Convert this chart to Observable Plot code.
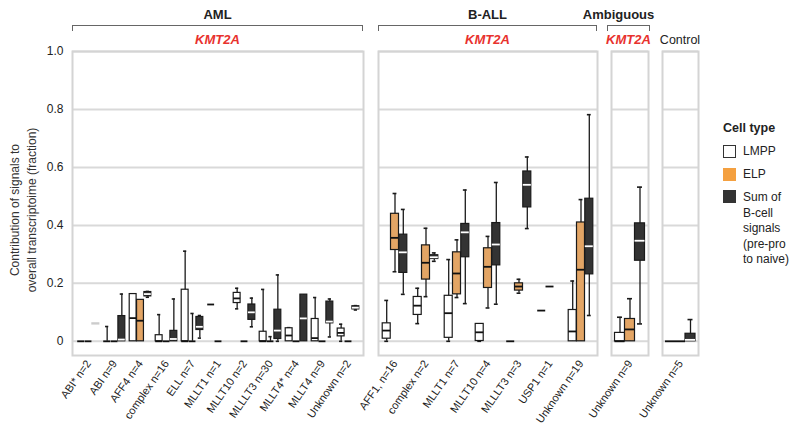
<!DOCTYPE html>
<html>
<head>
<meta charset="utf-8">
<script src="https://cdn.jsdelivr.net/npm/d3@7"></script>
<script src="https://cdn.jsdelivr.net/npm/@observablehq/plot@0.6"></script>
<style>
  body { margin: 0; background: white; }
  #c { position: relative; width: 800px; height: 435px; font-family: "Liberation Sans", Arial, sans-serif; color: #222; overflow: hidden; }
  #c svg { position: absolute; left: 0; top: 0; }
  .hd { position: absolute; font-size: 13px; font-weight: bold; white-space: nowrap; transform: translateX(-50%); line-height: 16px; }
  .kmt { position: absolute; font-size: 13px; font-weight: bold; font-style: italic; color: #e8322e; white-space: nowrap; transform: translateX(-50%); line-height: 16px; }
  .br { position: absolute; height: 6px; border: 1.5px solid #666; border-bottom: none; box-sizing: border-box; }
  .lg { position: absolute; font-size: 12px; line-height: 15.5px; color: #222; }
  .sw { position: absolute; width: 13px; height: 13px; box-sizing: border-box; }
</style>
</head>
<body>
<div id="c"></div>
<script>
// ---------- DATA: [whisker low, Q1, median, Q3, whisker high] ----------
const amlCats = ["ABI* n=2","ABI n=9","AFF4 n=4","complex n=16","ELL n=7","MLLT1 n=1","MLLT10 n=2","MLLLT3 n=30","MLLT4* n=4","MLLT4 n=9","Unknown n=2"];
const amlLMPP = [
  [0,0,0,0,0],[0,0,0,0,0.051],[0,0,0.08,0.163,0.163],[0,0,0,0.021,0.092],[0,0,0,0.178,0.311],
  [0.127,0.127,0.127,0.127,0.127],[0.112,0.132,0.148,0.167,0.183],[0,0,0,0.033,0.179],
  [0,0,0.02,0.045,0.047],[0,0,0.011,0.077,0.151],[0,0.017,0.029,0.044,0.059]];
const amlELP = [
  [0,0,0,0,0],[0,0,0,0,0],[0,0,0.071,0.143,0.143],[0,0,0,0,0],[0,0,0,0,0.096],
  [0,0,0,0,0],[0,0,0,0,0],[0,0,0,0,0.016],[0,0,0,0,0],[0,0,0,0,0],[0,0,0,0,0]];
const amlSum = [
  [0.058,0.058,0.06,0.062,0.062],[0,0,0.006,0.087,0.163],[0.152,0.155,0.163,0.17,0.172],
  [0,0,0.008,0.036,0.146],[0.011,0.039,0.05,0.084,0.089],null,[0.05,0.074,0.1,0.127,0.149],
  [0,0.008,0.037,0.109,0.229],[0,0,0.079,0.161,0.161],[0.015,0.062,0.068,0.137,0.146],
  [0.108,0.11,0.116,0.121,0.123]];
const amlFaint = ["ABI* n=2"];

const ballCats = ["AFF1, n=16","complex n=2","MLLT1 n=7","MLLT10 n=4","MLLLT3 n=3","USP1 n=1","Unknown n=19"];
const ballLMPP = [
  [0,0.009,0.037,0.062,0.141],[0.061,0.091,0.123,0.153,0.183],[0,0.012,0.097,0.157,0.282],
  [0,0.001,0.031,0.06,0.06],[0,0,0,0,0],[0.106,0.106,0.106,0.106,0.106],[0,0,0.034,0.108,0.208]];
const ballELP = [
  [0.24,0.315,0.357,0.44,0.51],[0.154,0.213,0.271,0.331,0.39],[0.151,0.162,0.234,0.307,0.35],
  [0.115,0.184,0.257,0.321,0.362],[0.166,0.175,0.189,0.2,0.214],[0.189,0.189,0.189,0.189,0.189],
  [0,0,0.247,0.41,0.489]];
const ballSum = [
  [0.162,0.236,0.307,0.368,0.455],[0.276,0.284,0.29,0.297,0.305],[0.13,0.29,0.376,0.405,0.522],
  [0.128,0.262,0.334,0.408,0.548],[0.389,0.462,0.54,0.586,0.636],null,[0.089,0.231,0.328,0.492,0.782]];

const ambCats = ["Unknown n=9"];
const ambLMPP = [[0,0,0,0.029,0.083]];
const ambELP  = [[0,0,0.041,0.077,0.147]];
const ambSum  = [[0.06,0.278,0.347,0.407,0.532]];

const ctlCats = ["Unknown n=5"];
const ctlLMPP = [[0,0,0,0,0]];
const ctlELP  = [[0,0,0,0,0]];
const ctlSum  = [[0,0,0.005,0.026,0.075]];

const yTicks = [0, 0.2, 0.4, 0.6, 0.8, 1.0];
const cellTypes = ["LMPP", "ELP", "Sum of B-cell signals (pre-pro to naive)"];
// ---------------------------------------------------------------------

const typeStyle = [
  {fill: "white", med: "#111"},
  {fill: "#e3a565", med: "#111"},
  {fill: "#333333", med: "white"}
];

function rows(cats, series, faint = []) {
  const out = [];
  series.forEach((v, i) => {
    if (!v) return;
    out.push({cat: cats[i], lo: v[0], q1: v[1], med: v[2], q3: v[3], hi: v[4], faint: faint.includes(cats[i])});
  });
  return out;
}

function panel({cats, series, L, R, p, yAxis, faint}) {
  const n = cats.length;
  const band = (R - L) / n;
  const w = band / (3 + 2 * p);
  const inset = (band - w) / 2;
  const capInset = (band - w * 0.5) / 2;
  const marks = [
    Plot.gridY(yTicks, {stroke: "#d9d9d9", strokeOpacity: 1, strokeWidth: 2}),
    Plot.frame({stroke: "#d4d4d4", strokeWidth: 2})
  ];
  series.forEach((s, i) => {
    const all = rows(cats, s, i === 2 ? faint : []);
    const data = all.filter(d => !d.faint);
    const fd = all.filter(d => d.faint);
    const dx = (i - 1) * w;
    const st = typeStyle[i];
    const whisk = data.filter(d => d.hi > d.lo);
    marks.push(
      Plot.ruleX(whisk, {x: "cat", y1: "lo", y2: "hi", dx, stroke: "#1a1a1a", strokeWidth: 1.3}),
      Plot.tickY(whisk.filter(d => d.hi > d.q3), {x: "cat", y: "hi", dx, insetLeft: capInset, insetRight: capInset, stroke: "#1a1a1a", strokeWidth: 1.6}),
      Plot.tickY(whisk.filter(d => d.lo < d.q1), {x: "cat", y: "lo", dx, insetLeft: capInset, insetRight: capInset, stroke: "#1a1a1a", strokeWidth: 1.6}),
      Plot.barY(data.filter(d => d.q3 > d.q1), {x: "cat", y1: "q1", y2: "q3", dx, insetLeft: inset, insetRight: inset, fill: st.fill, stroke: "#1a1a1a", strokeWidth: 1.2}),
      Plot.tickY(data, {x: "cat", y: "med", dx, insetLeft: inset, insetRight: inset,
        stroke: d => (d.q3 > d.q1 ? st.med : "#111"), strokeWidth: 1.8})
    );
    if (fd.length) {
      marks.push(
        Plot.barY(fd, {x: "cat", y1: "q1", y2: "q3", dx, insetLeft: inset, insetRight: inset, fill: "white", stroke: "#cccccc", strokeWidth: 1.2})
      );
    }
  });
  if (yAxis) {
    marks.push(Plot.axisY(yTicks, {tickSize: 0, tickPadding: 9, fontSize: 12,
      tickFormat: d => d === 0 ? "0" : d.toFixed(1), label: null}));
  }
  marks.push(Plot.axisX({tickRotate: -55, tickSize: 0, tickPadding: 6, fontSize: 11, label: null}));
  return Plot.plot({
    width: 800, height: 435,
    marginLeft: L, marginRight: 800 - R, marginTop: 51, marginBottom: 80,
    x: {type: "band", domain: cats, padding: 0},
    y: {domain: [-0.049, 1], ...(yAxis ? {} : {axis: null})},
    style: {background: "transparent", overflow: "visible", color: "#222", fontFamily: "'Liberation Sans', Arial, sans-serif"},
    marks
  });
}

const c = document.getElementById("c");
c.append(panel({cats: amlCats, series: [amlLMPP, amlELP, amlSum], L: 72, R: 363, p: 0.3, yAxis: true, faint: amlFaint}));
c.append(panel({cats: ballCats, series: [ballLMPP, ballELP, ballSum], L: 378, R: 597, p: 0.386, yAxis: false}));
c.append(panel({cats: ambCats, series: [ambLMPP, ambELP, ambSum], L: 611, R: 648, p: 0.35, yAxis: false}));
c.append(panel({cats: ctlCats, series: [ctlLMPP, ctlELP, ctlSum], L: 662, R: 698, p: 0.3, yAxis: false}));

function add(html) { c.insertAdjacentHTML("beforeend", html); }
// group headers
add(`<div class="hd" style="left:217.5px;top:7px">AML</div>`);
add(`<div class="br" style="left:72px;top:25px;width:291px"></div>`);
add(`<div class="kmt" style="left:217.5px;top:32px">KMT2A</div>`);
add(`<div class="hd" style="left:487.5px;top:7px">B-ALL</div>`);
add(`<div class="br" style="left:378px;top:25px;width:219px"></div>`);
add(`<div class="kmt" style="left:487.5px;top:32px">KMT2A</div>`);
add(`<div class="hd" style="left:618.5px;top:7px">Ambiguous</div>`);
add(`<div class="br" style="left:607px;top:25px;width:43px"></div>`);
add(`<div class="kmt" style="left:628.5px;top:32px">KMT2A</div>`);
add(`<div class="hd" style="left:680px;top:32px;font-weight:normal;font-size:12.5px">Control</div>`);
// y title
add(`<div style="position:absolute;left:24px;top:210px;transform:translate(-50%,-50%) rotate(-90deg);font-size:12px;line-height:17px;text-align:center;white-space:nowrap;color:#333">Contribution of signals to<br>overall transcriptoime (fraction)</div>`);
// legend
add(`<div class="lg" style="left:723px;top:121px;font-weight:bold;font-size:12.5px">Cell type</div>`);
add(`<div class="sw" style="left:723px;top:145px;border:1.5px solid #333;background:white"></div>`);
add(`<div class="lg" style="left:743px;top:144px">${cellTypes[0]}</div>`);
add(`<div class="sw" style="left:723px;top:168px;background:#f4a040"></div>`);
add(`<div class="lg" style="left:743px;top:167px">${cellTypes[1]}</div>`);
add(`<div class="sw" style="left:723px;top:190px;background:#333"></div>`);
add(`<div class="lg" style="left:743px;top:190px;width:52px">Sum of<br>B-cell<br>signals<br>(pre-pro<br>to naive)</div>`);
</script>
</body>
</html>
